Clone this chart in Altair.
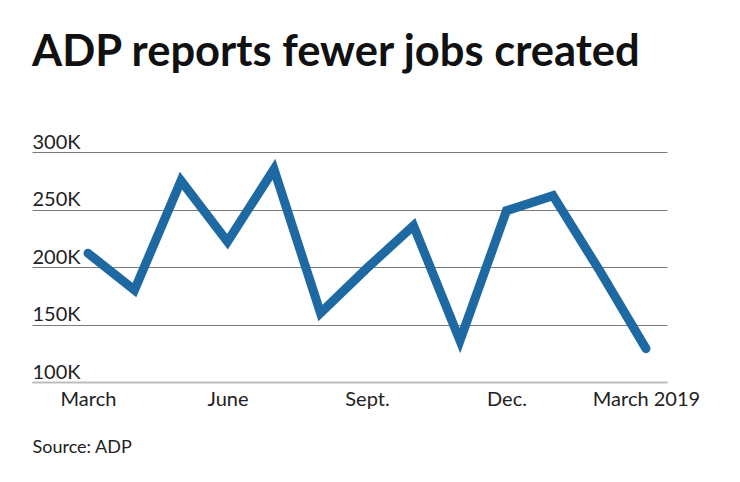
import altair as alt
import pandas as pd

months = ["March", "April", "May", "June", "July", "Aug.", "Sept.",
          "Oct.", "Nov.", "Dec.", "Jan.", "Feb.", "March 2019"]
jobs_k = [212, 180, 275, 222, 285, 160, 199, 236, 136, 249, 262, 197, 129]
tick_idx = [0, 3, 6, 9, 12]
tick_names = ["March", "June", "Sept.", "Dec.", "March 2019"]
y_ticks = [100, 150, 200, 250, 300]

df = pd.DataFrame({"idx": list(range(len(months))), "month": months, "jobs": jobs_k})

label_expr = " : ".join(
    [f"datum.value == {i} ? '{n}'" for i, n in zip(tick_idx, tick_names)]
) + " : ''"

FONT = "Lato"

chart = alt.Chart(df).mark_line(
    color="#1f69a3", strokeWidth=9, strokeCap="round", strokeJoin="miter"
).encode(
    x=alt.X("idx:Q",
            scale=alt.Scale(domain=[-1.204, 12.452], nice=False, zero=False),
            axis=alt.Axis(values=tick_idx, labelExpr=label_expr, grid=False,
                          ticks=False, labelPadding=7, labelFontSize=20,
                          labelFont=FONT, labelColor="#222222",
                          labelOverlap=False, labelFlush=False,
                          domainColor="#bdbdbd", domainWidth=2,
                          title="Source: ADP", titleFont=FONT, titleFontSize=18,
                          titleFontWeight="normal", titleColor="#222222",
                          titleAnchor="start", titleAlign="left", titleX=0,
                          titleY=70, titleBaseline="alphabetic")),
    y=alt.Y("jobs:Q",
            scale=alt.Scale(domain=[100, 300], nice=False, zero=False),
            axis=alt.Axis(values=y_ticks, labelExpr="datum.value + 'K'",
                          grid=True, gridColor="#7a7a7a", gridWidth=1,
                          domain=False, ticks=False, tickSize=0,
                          labelPadding=0, labelAlign="left",
                          labelBaseline="alphabetic", labelOffset=-4,
                          labelFontSize=20, labelFont=FONT,
                          labelColor="#222222", title=None)),
).properties(
    width=635,
    height=230,
    background="white",
    title=alt.TitleParams(
        "ADP reports fewer jobs created", anchor="start", frame="group",
        font=FONT, fontSize=43.5, fontWeight="bold", color="#111111", offset=57,
    ),
    autosize=alt.AutoSizeParams(type="none"),
    padding={"left": 24, "top": 144, "right": 60, "bottom": 90},
).configure_view(strokeWidth=0, stroke="transparent")

chart.save("out.html", embed_options={"renderer": "svg", "actions": False})
